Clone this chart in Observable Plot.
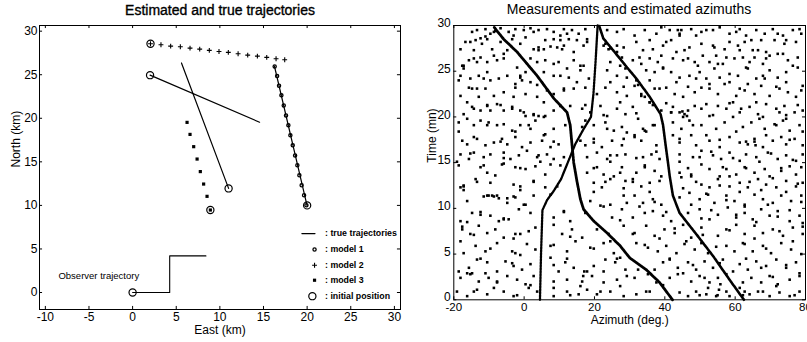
<!DOCTYPE html>
<html>
<head>
<meta charset="utf-8">
<script src="https://cdn.jsdelivr.net/npm/d3@7"></script>
<script src="https://cdn.jsdelivr.net/npm/@observablehq/plot@0.6"></script>
<style>
  body { margin: 0; background: #fff; }
  #wrap { position: relative; width: 807px; height: 342px; overflow: hidden; background: #fff;
          font-family: "Liberation Sans", Arial, Helvetica, sans-serif; color: #000; }
  .title { position: absolute; font-size: 14px; line-height: 14px; white-space: nowrap; transform: translateX(-50%); }
  #p1 { position: absolute; left: 0; top: 0; }
  #p2 { position: absolute; left: 405px; top: 0; }
</style>
</head>
<body>
<div id="wrap">
  <div id="p1"></div>
  <div id="p2"></div>
  <div class="title" id="t1" style="left:220px; top:3px; -webkit-text-stroke:0.35px #000;"></div>
  <div class="title" id="t2" style="left:629px; top:2px;"></div>
</div>
<script>
const fontFam = '"Liberation Sans", Arial, Helvetica, sans-serif';

// ---------- LEFT PANEL: Estimated and true trajectories ----------
const leftTitle = "Estimated and true trajectories";
const eastLabel = "East (km)";
const northLabel = "North (km)";
const eastTicks = [-10, -5, 0, 5, 10, 15, 20, 25, 30];
const northTicks = [0, 5, 10, 15, 20, 25, 30];
const eastDomain = [-10.67, 30.7];
const northDomain = [-1.95, 30.65];

const observerE = [0, 4.25, 4.25, 8.4];
const observerN = [0, 0, 4.2, 4.2];
const observerLabel = "Observer trajectory";
const observerLabelE = -8.5;
const observerLabelN = 1.9;

const trueId = [1, 1, 2, 2, 3, 3];
const trueE = [2.0, 14.55, 11.0, 5.6, 20.0, 16.25];
const trueN = [24.95, 19.55, 11.95, 26.35, 9.95, 26.0];

const model1E = [16.28, 16.56, 16.78, 17.05, 17.32, 17.58, 17.85, 18.08, 18.35, 18.62, 18.88, 19.11, 19.37, 19.65, 19.92];
const model1N = [25.95, 24.84, 23.74, 22.63, 21.48, 20.33, 19.19, 18.04, 16.89, 15.74, 14.6, 13.45, 12.3, 11.16, 10.01];

const model2E = [2.05, 3.25, 4.36, 5.47, 6.58, 7.69, 8.79, 9.9, 10.97, 12.09, 13.19, 14.3, 15.37, 16.44, 17.43];
const model2N = [28.55, 28.44, 28.28, 28.21, 28.05, 27.94, 27.79, 27.67, 27.56, 27.41, 27.25, 27.14, 26.99, 26.84, 26.72];

const model3E = [6.24, 6.58, 7.0, 7.39, 7.76, 8.14, 8.53, 8.91];
const model3N = [19.53, 18.15, 16.74, 15.32, 13.88, 12.45, 11.04, 9.47];

const initialE = [2.0, 11.0, 20.0, 0, 2.05, 8.91];
const initialN = [24.95, 11.95, 10.0, 0, 28.55, 9.47];

const legendLabels = [": true trajectories", ": model 1", ": model 2", ": model 3", ": initial position"];
const legendN = [6.77, 4.93, 3.13, 1.41, -0.42];
const legendLineE = [19.4, 20.9];
const legendKeyE = 20.85;
const legendTextE = 22.05;

// ---------- RIGHT PANEL: Measurements and estimated azimuths ----------
const rightTitle = "Measurements and estimated azimuths";
const azLabel = "Azimuth (deg.)";
const timeLabel = "Time (mn)";
const azTicks = [-20, 0, 20, 40, 60, 80];
const timeTicks = [0, 5, 10, 15, 20, 25, 30];
const azDomain = [-20, 80];
const timeDomain = [0, 30];

// estimated azimuth tracks: [azimuth (deg), time (mn)]
const trackA = [[4.5,0],[4.8,5],[5.2,9.8],[6.5,10.9],[8.4,11.9],[10.5,13.2],[12.4,15],[14.5,17],[16.8,18.6],[19.0,20.0],[19.7,22.5],[20.3,26],[20.9,30]];
const trackB = [[42.2,0],[38.5,1.9],[34.7,3.3],[30,4.6],[27.3,5.9],[23.6,7.3],[19.8,8.6],[16.9,9.9],[16,11],[15,13],[14.1,15],[13.6,17],[13.1,19.1],[12.2,20.5],[8.5,22],[3.7,24.5],[-2,27.1],[-5.8,28.5],[-7.7,29.4],[-8.5,29.8]];
const trackC = [[62.5,0],[58.4,2.2],[53.7,4.8],[48.9,7.2],[44.2,9.5],[42.3,11.4],[41.4,13.5],[40.9,15],[40.2,17],[39.5,19.1],[38.8,20.3],[35.7,22.2],[31.9,24.2],[29.5,25.3],[25.5,27.2],[22.5,28.6],[21.3,30]];

// measurements (clutter): [azimuth (deg), time (mn)]
const measurements = [
[-13.4,29.5],[-11.0,29.6],[-8.6,29.3],[-6.7,29.7],[-4.4,29.3],[-2.5,29.6],[-0.1,29.5],[1.8,29.7],[4.1,29.5],[6.5,29.6],[8.4,29.3],[11.3,29.6],[13.6,29.5],[15.5,29.1],[17.4,29.6],[23.6,29.5],[26.4,29.3],[28.3,29.6],
[-16.7,28.2],[-15.3,28.2],[-18.1,27.4],[-14.3,27.3],[-12.0,28.0],[-10.5,28.5],[-9.1,27.4],[-6.7,28.2],[-5.8,26.9],[-3.4,28.5],[-1.1,28.0],[0.4,28.7],[2.7,27.4],[4.1,27.3],[5.6,27.4],[6.0,28.4],[8.4,28.5],[10.3,28.4],[10.8,27.4],[12.7,28.5],[15.0,28.4],[16.9,27.8],[17.9,28.5],[23.1,28.0],[24.0,27.4],[26.4,27.8],[28.3,27.6],
[-17.6,25.6],[-15.7,26.2],[-14.3,26.4],[-12.4,26.5],[-10.5,26.0],[-7.7,26.2],[-5.8,26.4],[-2.0,25.4],[3.7,26.0],[6.0,26.2],[8.4,25.8],[9.8,26.0],[12.2,25.3],[14.1,26.2],[16.9,25.6],[24.5,26.0],[27.3,25.6],[28.8,25.3],
[-18.6,24.0],[-15.3,24.2],[-12.9,24.5],[-10.5,24.9],[-9.6,24.0],[-7.2,24.2],[-4.8,24.5],[-2.5,23.6],[-1.1,24.3],[0.4,24.9],[1.8,23.8],[5.6,24.9],[10.3,24.5],[12.7,24.3],[15.0,23.8],[16.0,25.1],[18.4,24.2],[23.6,25.1],[26.4,24.5],[29.2,24.3],
[-18.1,22.3],[-15.7,23.2],[-13.4,23.1],[-11.0,23.1],[-8.6,22.3],[-5.8,22.7],[-2.5,23.2],[0.4,22.5],[3.7,22.2],[6.5,22.9],[8.4,22.5],[11.3,22.9],[14.1,23.1],[17.4,23.2],[20.7,22.5],[23.1,23.2],[26.4,22.7],[29.2,22.3],
[-17.2,20.3],[-14.8,21.1],[-12.4,20.7],[-10.5,21.2],[-7.7,21.4],[-5.8,20.7],[-3.4,21.1],[-1.1,20.7],[0.4,20.1],[2.7,20.3],[4.1,20.1],[6.0,20.1],[8.4,20.7],[10.3,21.2],[13.1,21.2],[16.5,20.9],[18.8,20.5],[21.7,21.2],[23.6,20.1],[26.4,20.9],[28.8,20.3],
[-18.6,19.4],[-16.2,19.8],[-14.3,19.1],[-12.4,19.6],[-10.1,19.4],[-7.7,19.1],[-5.8,19.2],[-3.4,18.5],[-1.1,19.1],[1.8,18.7],[3.2,19.6],[6.0,18.1],[8.4,18.7],[11.7,19.1],[16.5,18.9],[17.4,19.6],[19.8,19.1],[23.1,19.4],[25.5,18.5],[27.8,18.9],[29.2,18.3],
[-17.6,17.4],[-16.2,17.0],[-13.4,17.6],[-11.0,16.9],[-8.6,17.2],[-6.3,17.6],[-4.8,17.0],[-2.5,17.8],[-0.6,16.7],[1.8,17.2],[5.1,17.4],[7.5,16.7],[9.8,17.0],[16.0,17.4],[17.4,16.9],[19.8,17.2],[22.1,16.7],[25.0,17.4],[27.8,16.9],
[-18.1,15.9],[-15.7,15.4],[-14.3,16.1],[-11.5,15.6],[-9.6,15.9],[-5.8,16.1],[-3.9,15.4],[-1.5,15.8],[0.8,16.3],[3.7,15.6],[6.5,15.9],[8.4,15.4],[11.3,15.6],[17.9,15.6],[20.7,16.1],[23.6,15.4],[26.4,15.8],[28.8,15.9],
[31.4,28.9],[34.3,29.5],[37.6,29.1],[39.0,29.8],[41.4,29.5],[44.2,29.1],[47.5,29.6],[50.4,29.3],[53.7,29.5],[55.6,29.8],[58.4,29.1],[61.3,29.6],[63.1,28.9],[66.0,29.5],[68.4,29.1],[70.7,29.6],[73.6,28.9],[76.4,29.5],[78.8,29.1],
[31.9,28.2],[33.8,27.3],[36.6,27.4],[39.5,27.8],[41.8,28.4],[45.6,27.3],[47.0,27.6],[50.4,28.0],[53.7,27.8],[54.1,27.6],[57.0,27.4],[60.8,27.8],[61.3,27.3],[62.7,28.2],[65.0,27.3],[67.4,28.4],[68.8,27.1],[71.2,28.4],[74.0,28.0],[77.3,28.2],
[30.9,26.2],[33.3,25.8],[35.7,26.4],[39.0,26.7],[39.5,25.4],[42.3,26.4],[45.2,26.2],[48.5,26.0],[50.8,26.7],[52.7,26.0],[55.1,25.8],[57.5,26.5],[59.8,26.4],[63.1,25.4],[64.1,26.0],[65.5,26.5],[67.9,25.8],[69.8,26.7],[72.1,26.9],[75.0,26.2],[77.8,26.5],
[31.9,24.0],[34.7,25.1],[37.1,24.9],[39.5,25.3],[41.8,24.9],[44.2,24.3],[47.0,24.5],[49.9,24.9],[51.8,24.2],[54.1,25.3],[55.6,24.3],[58.4,24.7],[60.8,24.5],[63.6,25.3],[66.0,24.2],[67.9,24.5],[69.8,25.1],[72.1,24.3],[74.5,24.9],[77.8,25.4],
[31.4,23.4],[33.3,22.3],[37.1,23.1],[40.4,23.2],[42.8,22.5],[45.2,22.2],[48.5,22.7],[50.4,23.2],[52.7,23.1],[55.1,22.5],[57.0,23.6],[60.3,22.3],[62.7,22.9],[65.5,22.5],[67.4,23.4],[69.8,22.3],[72.6,23.1],[75.0,22.7],[77.3,22.2],[79.2,23.4],
[30.9,21.1],[35.7,21.6],[39.0,20.7],[41.8,20.5],[45.6,20.3],[48.5,21.2],[51.8,21.4],[55.1,21.2],[57.5,20.9],[59.4,21.6],[61.3,20.5],[64.1,21.1],[66.5,20.3],[68.8,21.4],[71.7,20.9],[74.0,21.2],[76.9,20.5],[79.2,20.7],
[32.4,19.8],[34.3,18.5],[36.6,19.1],[42.3,19.4],[44.7,18.7],[47.0,19.6],[50.4,19.1],[52.7,20.1],[54.6,18.7],[57.0,19.4],[59.4,20.0],[62.2,18.9],[64.6,19.4],[66.9,19.8],[68.4,18.7],[71.2,19.2],[73.6,19.6],[75.5,18.5],[78.3,19.1],
[31.4,17.8],[33.3,17.4],[37.6,16.9],[42.3,18.0],[44.2,17.2],[47.5,18.0],[48.9,16.9],[52.7,17.4],[55.6,16.7],[58.4,17.8],[61.3,17.2],[63.6,17.0],[65.5,17.6],[67.9,16.7],[70.7,17.4],[73.1,17.8],[74.5,17.0],[76.9,17.6],[79.2,16.9],
[33.8,15.6],[36.2,15.9],[38.5,15.4],[44.2,15.9],[48.0,15.6],[50.4,16.3],[53.7,15.8],[56.0,15.4],[58.4,16.1],[61.3,15.2],[63.1,15.9],[66.0,15.6],[69.3,16.1],[72.1,15.4],[74.5,15.8],[77.3,15.2],[79.2,15.9],
[-12.4,14.5],[-10.5,13.9],[-6.3,14.8],[-2.5,14.5],[0.4,14.3],[3.2,14.6],[6.0,13.7],[7.5,14.8],[17.9,13.9],[20.7,14.5],[22.6,13.7],[25.5,13.5],[27.3,13.9],
[-18.1,12.3],[-17.2,12.4],[-13.8,13.2],[-9.6,12.8],[-3.0,12.6],[-1.1,12.4],[2.7,13.0],[6.0,12.3],[9.4,12.4],[19.8,12.8],[22.1,12.3],[24.5,13.2],[28.8,13.0],
[-16.2,10.8],[-10.5,11.4],[-9.1,11.4],[-7.7,11.4],[-4.8,10.6],[-2.5,11.2],[0.4,10.4],[2.7,11.4],[7.5,11.5],[18.8,10.8],[21.7,10.3],[24.5,10.4],[28.3,11.4],[29.2,10.6],
[-18.1,8.6],[-14.8,9.5],[-12.4,9.3],[-9.6,9.2],[-7.2,8.6],[-5.8,8.8],[-4.4,8.8],[-1.5,9.9],[1.8,9.5],[8.4,9.0],[11.3,9.7],[13.1,8.6],[17.4,9.5],[25.0,9.0],[27.8,9.9],
[-17.6,7.7],[-15.3,7.2],[-12.9,8.1],[-10.5,7.3],[-8.2,7.7],[-5.8,6.8],[-2.5,7.2],[-1.1,7.2],[3.2,7.9],[8.4,8.2],[10.8,7.2],[13.6,7.7],[16.5,6.8],[20.7,7.7],[24.0,7.2],[28.3,8.1],
[-17.2,5.1],[-13.8,5.9],[-11.0,5.3],[-7.7,6.2],[-3.4,5.3],[-2.5,5.1],[0.8,6.1],[3.2,5.5],[7.5,5.9],[12.2,5.3],[14.6,6.4],[18.8,5.7],[22.6,6.2],[25.5,5.1],[27.3,4.6],
[-18.6,3.1],[-15.7,3.5],[-13.4,4.4],[-10.5,4.1],[-7.7,3.1],[-5.3,4.2],[-3.0,3.7],[-0.6,3.3],[1.8,3.9],[7.5,4.6],[9.8,3.1],[11.7,4.1],[14.1,3.5],[17.9,3.1],[19.8,3.7],[23.1,4.4],[25.9,4.1],[28.8,3.3],
[-18.1,2.4],[-15.3,2.8],[-12.9,2.0],[-10.1,2.4],[-7.7,1.9],[-4.8,2.6],[-2.0,2.2],[0.4,1.7],[2.7,2.6],[8.4,2.0],[12.2,2.2],[16.0,1.5],[19.3,2.6],[22.6,1.9],[26.4,2.2],[29.2,2.6],
[-19.1,0.9],[-16.2,0.4],[-13.4,1.1],[-10.5,0.6],[-5.8,0.9],[-3.0,0.4],[1.3,1.3],[3.7,0.9],[8.4,0.4],[12.2,0.9],[15.5,0.6],[17.9,1.1],[20.7,0.6],[24.5,0.9],[28.3,0.4],
[16.5,2.0],[16.8,2.6],[17.1,3.1],
[31.9,13.9],[34.3,14.5],[37.1,14.1],[44.2,13.9],[47.5,13.7],[50.4,14.8],[52.7,14.3],[55.6,13.5],[57.5,14.3],[60.3,13.7],[62.7,14.5],[65.5,13.9],[68.4,14.3],[69.8,13.5],[73.1,14.1],[75.5,14.6],[77.3,13.7],
[30.9,13.2],[33.3,12.4],[35.7,12.8],[38.5,13.0],[44.7,13.4],[47.5,13.5],[50.4,12.6],[52.7,12.3],[55.1,13.2],[58.4,12.4],[61.3,12.8],[63.6,12.3],[66.5,13.2],[68.8,12.6],[71.7,12.3],[74.5,13.0],[77.3,12.4],[79.2,12.8],
[31.4,11.4],[33.8,10.6],[36.6,11.0],[39.0,10.4],[44.2,11.2],[47.0,11.7],[49.9,11.0],[52.3,11.5],[54.1,10.6],[57.5,11.4],[59.8,10.8],[62.7,10.4],[65.5,11.5],[67.9,11.0],[70.7,10.6],[73.1,11.4],[75.9,10.8],[78.8,11.4],
[30.9,9.0],[34.3,9.5],[36.6,9.7],[39.5,9.2],[41.8,8.6],[46.6,9.5],[49.9,9.9],[52.7,8.8],[55.1,9.3],[57.9,10.1],[60.3,9.0],[62.7,9.5],[65.0,8.8],[67.4,9.9],[69.8,9.2],[72.1,9.7],[75.5,8.6],[78.3,9.2],
[30.9,7.2],[34.7,8.1],[37.1,7.0],[39.9,7.7],[42.8,7.3],[45.2,8.2],[47.5,6.8],[50.4,7.9],[55.1,7.0],[57.5,7.7],[60.3,8.2],[62.7,7.2],[65.5,8.1],[67.9,7.3],[70.7,7.7],[73.6,7.0],[76.4,7.9],[79.2,7.2],
[31.9,6.2],[35.2,5.7],[38.0,5.3],[40.4,5.9],[43.3,5.1],[45.6,6.1],[48.5,5.5],[50.4,6.2],[52.3,5.1],[57.5,5.9],[59.8,5.3],[62.7,6.1],[65.0,5.3],[67.9,5.9],[70.2,5.1],[73.1,6.2],[75.9,5.5],[78.8,5.0],
[37.1,3.3],[39.5,4.1],[41.4,4.4],[43.7,3.5],[46.6,4.1],[48.9,3.3],[51.3,4.2],[53.7,3.5],[56.5,4.4],[61.3,3.9],[63.6,3.3],[66.0,4.2],[68.8,3.7],[71.7,4.4],[74.5,3.5],[77.3,4.1],
[31.4,2.4],[35.2,2.8],[37.6,1.9],[41.4,2.4],[43.7,2.8],[47.5,2.0],[49.9,2.6],[52.7,1.9],[55.1,2.4],[57.5,2.8],[62.2,1.9],[64.6,2.4],[67.4,1.9],[69.8,2.6],[72.1,1.7],[75.5,2.2],[78.3,2.6],
[31.9,0.6],[34.7,0.9],[44.2,0.8],[46.6,0.4],[48.9,0.9],[51.8,0.6],[54.6,0.4],[57.5,0.9],[64.1,0.6],[66.5,0.9],[69.8,0.4],[72.6,0.8],[75.5,0.4],[78.3,0.9],
[55.0,0.5],[55.4,1.1],[55.8,1.7],
// second reading, right half
[35.7,28.4],[40.4,28.2],[48.9,28.9],[51.8,29.5],[58.4,28.2],[60.3,29.3],[64.6,28.4],[72.1,29.1],[74.5,28.4],[78.3,29.6],
[43.7,29.5],[44.7,29.5],[44.2,28.9],
[32.8,26.5],[38.0,26.0],[43.3,27.1],[46.6,26.4],[49.4,25.6],[54.6,26.7],[56.5,25.8],[62.2,26.5],[66.5,27.3],[68.8,26.4],[73.6,26.9],[76.4,25.6],
[32.4,23.5],[35.7,24.0],[38.5,23.1],[43.3,23.8],[46.6,23.3],[48.9,24.2],[52.7,23.6],[58.4,23.8],[61.3,23.1],[63.6,23.6],[68.4,24.2],[71.7,23.3],[74.5,23.8],[78.8,22.9],
[31.9,20.4],[40.4,21.5],[44.2,20.5],[50.4,20.9],[53.7,20.2],[58.4,21.5],[61.7,20.9],[66.0,21.6],[67.9,20.0],[72.6,20.5],[77.8,21.3],
[45.0,20.6],[46.3,20.1],[46.6,20.7],[45.2,20.0],[74.5,20.2],[74.5,19.8],[42.3,21.1],[41.8,20.5],
[33.3,22.5],[34.3,22.2],[35.7,21.6],[36.6,21.3],[33.8,18.7],[34.7,18.4],
[31.4,18.0],[37.1,19.1],[44.2,17.6],[48.0,19.1],[51.8,18.0],[55.6,17.5],[60.3,18.4],[63.1,17.3],[68.8,18.0],[71.7,19.1],[75.5,17.5],[79.2,18.4],
[65.5,17.3],[65.8,16.9],
[31.9,15.5],[34.3,14.7],[37.6,16.2],[44.2,15.1],[46.6,14.4],[49.9,15.6],[53.2,16.2],[56.5,14.5],[59.4,15.5],[63.1,14.4],[66.9,15.1],[70.2,16.0],[73.1,14.4],[76.4,15.3],[78.8,14.5],
[30.9,12.9],[35.7,11.8],[39.0,13.5],[45.2,12.2],[48.9,12.9],[51.8,11.6],[55.6,12.5],[58.4,13.5],[61.3,11.8],[64.1,12.9],[67.4,12.0],[70.7,13.3],[74.5,11.8],[77.8,12.7],
[32.8,10.2],[37.1,10.7],[40.4,9.6],[47.5,10.4],[50.4,8.9],[53.2,9.8],[57.5,10.9],[60.3,9.3],[62.7,10.2],[66.0,8.5],[69.3,10.4],[72.1,9.1],[75.5,9.8],[78.8,10.7],
[79.2,8.4],[79.2,8.0],
[31.4,7.3],[34.3,6.0],[38.5,6.7],[42.8,7.8],[46.1,6.4],[50.8,7.1],[54.6,5.8],[58.4,7.6],[62.2,6.2],[65.5,6.7],[68.8,5.6],[72.6,7.5],[76.4,6.4],
[32.4,3.3],[41.4,4.5],[45.2,2.9],[48.0,3.8],[51.3,2.4],[55.6,4.0],[59.4,3.1],[63.1,4.5],[67.4,3.5],[70.7,2.5],[74.5,3.8],[78.3,2.9],
[35.7,0.9],[39.5,1.6],[49.9,0.5],[52.3,1.3],[58.4,0.4],[67.9,0.9],[71.7,1.5],[76.9,0.5],
[61.3,1.3],[62.7,0.9],[62.2,0.5],
// second reading, left half
[-14.8,29.3],[-3.0,28.9],[2.7,29.3],[17.9,28.2],
[-13.8,28.4],[-12.4,28.6],[-11.0,28.8],[-9.6,29.1],[-8.2,29.4],
[10.3,28.9],[12.2,29.1],[4.1,27.6],[7.5,27.7],[9.4,27.6],[11.3,27.8],
[22.6,27.8],[24.5,27.5],[26.4,27.1],[27.8,26.5],
[-17.2,25.6],[-17.2,25.3],[-13.4,26.0],[-8.6,26.7],[-4.8,27.3],[1.8,26.4],[14.1,27.1],[16.0,25.6],
[-18.1,24.5],[-14.8,23.1],[-11.5,24.2],[-1.1,24.5],[-0.6,24.0],[3.7,23.5],[8.4,24.5],[11.3,23.1],[24.5,23.8],[28.3,23.3],
[-16.2,21.6],[-12.9,22.2],[-9.6,20.7],[-3.0,22.2],[5.6,21.6],[17.4,21.3],[22.6,20.2],[27.3,21.6],
[-14.3,20.9],[-10.5,21.3],[-6.7,21.3],[-3.4,20.9],[-0.1,20.5],[2.7,20.2],[5.6,20.0],
[-18.6,18.4],[-14.3,17.8],[-10.5,19.1],[-6.7,17.3],[-2.5,18.4],[1.3,19.1],[5.6,18.0],[8.4,17.3],[19.8,17.6],[23.6,18.7],[28.3,17.6],
[-19.1,15.1],[-18.6,14.7],[-15.3,16.0],[-11.5,14.7],[-5.8,15.5],[-5.8,14.9],[-1.1,14.4],[4.1,15.8],[4.6,15.1],[10.3,14.7],[19.8,14.4],[24.5,15.8],[24.5,15.1],[27.8,14.5],
[-17.2,12.5],[-17.2,12.0],[-13.4,12.9],[-8.2,13.6],[-1.1,12.0],[2.7,12.9],[19.8,11.8],[23.1,12.9],[28.3,12.2],
[-11.5,11.3],[-10.1,11.4],[-8.6,11.3],[-7.2,11.1],[-4.8,11.1],[-3.0,11.3],
[-17.6,8.0],[-16.2,8.5],[-12.4,9.6],[-5.8,8.9],[-0.1,10.4],[11.3,9.6],[22.6,10.2],[27.3,8.7],
[-18.1,6.4],[-14.3,7.1],[-9.6,5.6],[-3.0,6.7],[1.3,7.5],[8.4,6.0],[13.1,6.9],[19.8,5.6],[24.5,6.4],
[-16.2,2.9],[-14.8,2.9],[-11.0,2.9],[-12.4,4.5],[-7.7,2.0],[-3.4,4.0],[-1.1,4.9],[8.4,3.8],[12.2,4.5],[22.6,3.1],[26.4,4.5],
[-14.3,0.9],[-8.6,1.3],[-2.0,0.5],[1.8,1.6],[8.4,1.3],[13.1,0.5],[21.7,0.9],[27.3,1.5]
];

// ---------- helpers ----------
const rows = (xs, ys, extra) => xs.map((x, i) => Object.assign({x, y: ys[i]}, extra ? extra(i) : {}));
function insideTicks(xTicks, yTicks, xDom, yDom, xLen, yLen) {
  return [
    Plot.ruleX(xTicks, {x: d => d, y1: yDom[0], y2: yDom[0] + yLen, stroke: "black", strokeWidth: 1}),
    Plot.ruleX(xTicks, {x: d => d, y1: yDom[1], y2: yDom[1] - yLen, stroke: "black", strokeWidth: 1}),
    Plot.ruleY(yTicks, {y: d => d, x1: xDom[0], x2: xDom[0] + xLen, stroke: "black", strokeWidth: 1}),
    Plot.ruleY(yTicks, {y: d => d, x1: xDom[1], x2: xDom[1] - xLen, stroke: "black", strokeWidth: 1})
  ];
}

document.getElementById("t1").textContent = leftTitle;
document.getElementById("t2").textContent = rightTitle;

// ---------- LEFT PLOT ----------
const left = Plot.plot({
  width: 405, height: 342,
  marginLeft: 39, marginRight: 5, marginTop: 25, marginBottom: 33,
  x: {domain: eastDomain, label: null},
  y: {domain: northDomain, label: null},
  style: {fontFamily: fontFam, fontSize: "12px", background: "transparent", color: "black", overflow: "visible"},
  marks: [
    Plot.frame({stroke: "black", strokeWidth: 1}),
    ...insideTicks(eastTicks, northTicks, eastDomain, northDomain, 0.35, 0.35),
    Plot.axisX(eastTicks, {anchor: "bottom", tickSize: 0, tickPadding: 3, tickFormat: d => String(d), fontSize: 12, label: null}),
    Plot.axisY(northTicks, {anchor: "left", tickSize: 0, tickPadding: 2, tickFormat: d => String(d), fontSize: 12, label: null}),
    Plot.text([eastLabel], {text: d => d, frameAnchor: "bottom", dy: 24.5, fontSize: 12}),
    Plot.text([northLabel], {text: d => d, frameAnchor: "left", dx: -23, rotate: -90, fontSize: 12}),
    // observer trajectory
    Plot.line(rows(observerE, observerN), {x: "x", y: "y", stroke: "black", strokeWidth: 1.1}),
    Plot.text([observerLabel], {text: d => d, x: observerLabelE, y: observerLabelN, textAnchor: "start", fontSize: 9.5, fill: "black"}),
    // true trajectories
    Plot.line(rows(trueE, trueN, i => ({z: trueId[i]})), {x: "x", y: "y", z: "z", stroke: "black", strokeWidth: 1.2}),
    // model 1: small circles
    Plot.dot(rows(model1E, model1N), {x: "x", y: "y", r: 1.6, stroke: "black", strokeWidth: 1.3, fill: "none"}),
    // model 2: plus
    Plot.dot(rows(model2E, model2N), {x: "x", y: "y", symbol: "plus", r: 1.7, stroke: "black", strokeWidth: 1.1, fill: "none"}),
    // model 3: squares
    Plot.dot(rows(model3E, model3N), {x: "x", y: "y", symbol: "square", r: 1.8, fill: "black", stroke: "none"}),
    // initial positions
    Plot.dot(rows(initialE, initialN), {x: "x", y: "y", r: 3.6, stroke: "black", strokeWidth: 1.2, fill: "none"}),
    // legend
    Plot.line(legendLineE.map(e => ({x: e, y: legendN[0]})), {x: "x", y: "y", stroke: "black", strokeWidth: 1.2}),
    Plot.dot([{x: legendKeyE, y: legendN[1]}], {x: "x", y: "y", r: 1.6, stroke: "black", strokeWidth: 1.3, fill: "none"}),
    Plot.dot([{x: legendKeyE, y: legendN[2]}], {x: "x", y: "y", symbol: "plus", r: 1.7, stroke: "black", strokeWidth: 1.1, fill: "none"}),
    Plot.dot([{x: legendKeyE, y: legendN[3]}], {x: "x", y: "y", symbol: "square", r: 1.8, fill: "black", stroke: "none"}),
    Plot.dot([{x: legendKeyE - 0.25, y: legendN[4]}], {x: "x", y: "y", r: 3.6, stroke: "black", strokeWidth: 1.2, fill: "none"}),
    Plot.text(legendLabels.map((t, i) => ({t, y: legendN[i]})), {x: legendTextE, y: "y", text: "t", textAnchor: "start", fontSize: 8.8, fontWeight: "bold"})
  ]
});
document.getElementById("p1").appendChild(left);

// ---------- RIGHT PLOT ----------
const right = Plot.plot({
  width: 402, height: 342,
  marginLeft: 48.3, marginRight: 2, marginTop: 25, marginBottom: 42.7,
  x: {domain: azDomain, label: null},
  y: {domain: timeDomain, label: null},
  style: {fontFamily: fontFam, fontSize: "12px", background: "transparent", color: "black", overflow: "visible"},
  marks: [
    Plot.dot(measurements, {x: d => d[0], y: d => d[1], symbol: "square", r: 1.45, fill: "black", stroke: "none"}),
    Plot.line(trackA, {x: d => d[0], y: d => d[1], stroke: "black", strokeWidth: 2.3, strokeDasharray: "2.2,0.8"}),
    Plot.line(trackB, {x: d => d[0], y: d => d[1], stroke: "black", strokeWidth: 2.8, strokeDasharray: "2.2,0.8"}),
    Plot.line(trackC, {x: d => d[0], y: d => d[1], stroke: "black", strokeWidth: 2.6, strokeDasharray: "2.2,0.8"}),
    Plot.frame({stroke: "black", strokeWidth: 1}),
    ...insideTicks(azTicks, timeTicks, azDomain, timeDomain, 0.85, 0.33),
    Plot.axisX(azTicks, {anchor: "bottom", tickSize: 0, tickPadding: 3.5, tickFormat: d => String(d), fontSize: 11.5, label: null}),
    Plot.axisY(timeTicks, {anchor: "left", tickSize: 0, tickPadding: 3, dy: -2.2, tickFormat: d => String(d), fontSize: 12, label: null}),
    Plot.text([azLabel], {text: d => d, frameAnchor: "bottom", dy: 24.5, fontSize: 12}),
    Plot.text([timeLabel], {text: d => d, frameAnchor: "left", dx: -21.6, rotate: -90, fontSize: 12})
  ]
});
document.getElementById("p2").appendChild(right);
</script>
</body>
</html>
